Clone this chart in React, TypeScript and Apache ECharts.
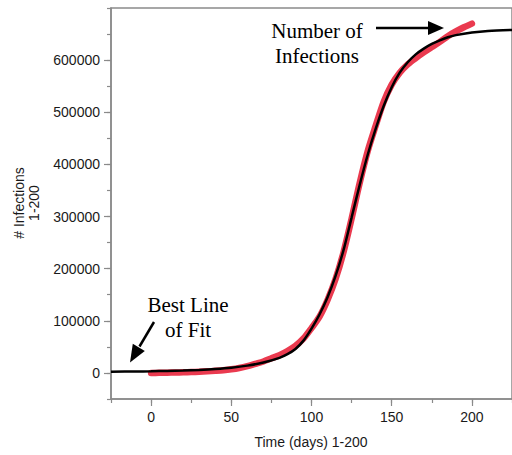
import React, { useEffect, useRef } from 'react';
import * as echarts from 'echarts';

// Best-fit curve (black)
const fitDays = [-25, -10, 0, 10, 20, 30, 40, 50, 60, 70, 80, 85, 90, 95, 100, 105, 110, 115, 120, 125, 130, 135, 140, 145, 150, 155, 160, 165, 170, 175, 180, 185, 190, 200, 210, 225];
const fitValues = [2500, 2800, 3200, 3800, 4600, 5800, 7500, 10000, 14000, 20000, 29000, 36000, 46000, 62000, 85000, 112000, 145000, 186000, 236000, 298000, 360000, 418000, 468000, 512000, 548000, 576000, 596000, 611000, 622000, 631000, 638000, 644000, 648000, 653000, 656000, 658000];

// Observed infections (red)
const obsDays = [0, 5, 10, 15, 20, 25, 30, 35, 40, 45, 50, 55, 60, 65, 70, 75, 80, 85, 90, 95, 100, 105, 110, 115, 120, 125, 130, 135, 140, 145, 150, 155, 160, 165, 170, 175, 180, 185, 190, 195, 200];
const obsValues = [0, 200, 500, 800, 1200, 1700, 2300, 3000, 4000, 5200, 7000, 9500, 13000, 17500, 22000, 28000, 34000, 42000, 52000, 66000, 86000, 108000, 140000, 180000, 232000, 296000, 364000, 425000, 474000, 520000, 553000, 576000, 592000, 604000, 615000, 625000, 635000, 646000, 655000, 663000, 670000];

const yLabelValues = [0, 100000, 200000, 300000, 400000, 500000, 600000];
const xLabelValues = [0, 50, 100, 150, 200];

const xTitle = 'Time (days) 1-200';
const yTitle = '# Infections\n1-200';
const noteTop = ['Number of', 'Infections'];
const noteBottom = ['Best Line', 'of Fit'];

const SANS = '"Liberation Sans", Arial, Helvetica, sans-serif';
const SERIF = '"Liberation Serif", "Times New Roman", Times, serif';
const AXIS_COLOR = '#8a8a8a';

export default function App() {
  const ref = useRef<HTMLDivElement>(null);
  useEffect(() => {
    if (!ref.current) return;
    const chart = echarts.init(ref.current, undefined, { renderer: 'svg' });
    const fitData = fitDays.map((d, i) => [d, fitValues[i]]);
    const obsData = obsDays.map((d, i) => [d, obsValues[i]]);
    const xBase = { type: 'value' as const, min: -25, max: 225, gridIndex: 0 };
    const yBase = { type: 'value' as const, min: -50000, max: 700000, gridIndex: 0 };
    const plain = (v: number) => String(v);
    chart.setOption({
      animation: false,
      grid: {
        left: 111, top: 8, right: -3, bottom: 56,
        show: true, borderColor: AXIS_COLOR, borderWidth: 1.5, backgroundColor: 'transparent',
      },
      xAxis: [
        {
          ...xBase,
          interval: 25,
          position: 'bottom',
          axisLine: { show: true, onZero: false, lineStyle: { color: AXIS_COLOR, width: 1.5 } },
          axisTick: { show: true, length: 7, customValues: xLabelValues, lineStyle: { color: AXIS_COLOR, width: 1.2 } },
          axisLabel: { show: true, customValues: xLabelValues, formatter: plain, margin: 11, color: '#1a1a1a', fontSize: 14, fontFamily: SANS },
          splitLine: { show: false },
        },
        {
          ...xBase,
          interval: 25,
          position: 'bottom',
          offset: 0,
          axisLine: { show: false, onZero: false },
          axisTick: { show: true, length: 4, lineStyle: { color: AXIS_COLOR, width: 1.2 } },
          axisLabel: { show: false },
          splitLine: { show: false },
        },
      ],
      yAxis: [
        {
          ...yBase,
          interval: 50000,
          position: 'left',
          axisLine: { show: true, onZero: false, lineStyle: { color: AXIS_COLOR, width: 1.5 } },
          axisTick: { show: true, length: 7, customValues: yLabelValues, lineStyle: { color: AXIS_COLOR, width: 1.2 } },
          axisLabel: { show: true, customValues: yLabelValues, formatter: plain, margin: 11, color: '#1a1a1a', fontSize: 14, fontFamily: SANS },
          splitLine: { show: false },
        },
        {
          ...yBase,
          interval: 50000,
          position: 'left',
          offset: 0,
          axisLine: { show: false, onZero: false },
          axisTick: { show: true, length: 4, lineStyle: { color: AXIS_COLOR, width: 1.2 } },
          axisLabel: { show: false },
          splitLine: { show: false },
        },
      ],
      series: [
        {
          type: 'line',
          name: 'Number of Infections',
          xAxisIndex: 0, yAxisIndex: 0,
          data: obsData,
          smooth: 0.3,
          showSymbol: false,
          lineStyle: { color: '#ea3a4f', width: 6.5, cap: 'round', join: 'round' },
          z: 2,
        },
        {
          type: 'line',
          name: 'Best Line of Fit',
          xAxisIndex: 0, yAxisIndex: 0,
          data: fitData,
          smooth: 0.3,
          showSymbol: false,
          lineStyle: { color: '#000000', width: 2.5 },
          z: 3,
        },
      ],
      graphic: [
        {
          type: 'text', x: 26, y: 203, rotation: Math.PI / 2,
          style: { text: yTitle, fill: '#1a1a1a', font: `14px ${SANS}`, align: 'center', verticalAlign: 'middle', lineHeight: 15 },
        },
        {
          type: 'text', x: 311, y: 442,
          style: { text: xTitle, fill: '#1a1a1a', font: `14px ${SANS}`, align: 'center', verticalAlign: 'middle' },
        },
        {
          type: 'text', x: 317, y: 31,
          style: { text: noteTop[0], fill: '#000', font: `21px ${SERIF}`, align: 'center', verticalAlign: 'middle' },
        },
        {
          type: 'text', x: 317, y: 56,
          style: { text: noteTop[1], fill: '#000', font: `21px ${SERIF}`, align: 'center', verticalAlign: 'middle' },
        },
        {
          type: 'text', x: 188, y: 305,
          style: { text: noteBottom[0], fill: '#000', font: `21px ${SERIF}`, align: 'center', verticalAlign: 'middle' },
        },
        {
          type: 'text', x: 188, y: 330,
          style: { text: noteBottom[1], fill: '#000', font: `21px ${SERIF}`, align: 'center', verticalAlign: 'middle' },
        },
        {
          type: 'line', shape: { x1: 376, y1: 28, x2: 429, y2: 28 },
          style: { stroke: '#000', lineWidth: 2.5 },
        },
        {
          type: 'polygon', shape: { points: [[428, 21], [444, 28], [428, 35]] },
          style: { fill: '#000' },
        },
        {
          type: 'line', shape: { x1: 154, y1: 322, x2: 139.5, y2: 346.5 },
          style: { stroke: '#000', lineWidth: 2.5 },
        },
        {
          type: 'polygon', shape: { points: [[144.8, 351.0], [130, 362.5], [132.8, 343.8]] },
          style: { fill: '#000' },
        },
      ],
    });
    return () => chart.dispose();
  }, []);
  return (
    <div style={{ position: 'fixed', left: 0, top: 0, width: 512, height: 455, overflow: 'hidden', background: '#fff' }}>
      <div ref={ref} style={{ width: 512, height: 455 }} />
    </div>
  );
}
